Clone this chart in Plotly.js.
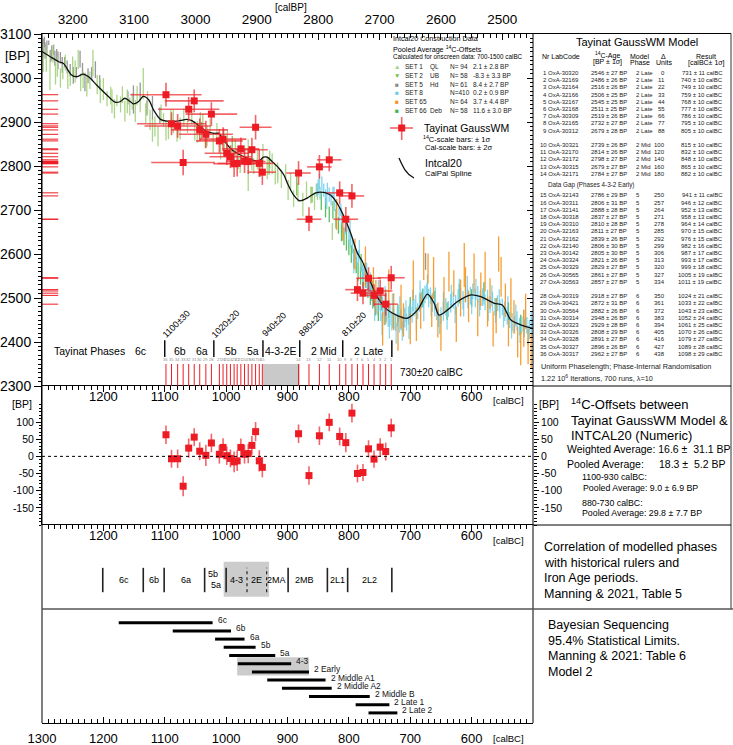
<!DOCTYPE html>
<html><head><meta charset="utf-8">
<script src="https://cdn.plot.ly/plotly-3.0.1.min.js"></script>
<style>html,body{margin:0;padding:0;background:#fff}#chart{width:733px;height:745px}</style>
</head><body><div id="chart"></div>
<script>
// ================= DATA =================
const labCode = ['OxA-30320','OxA-32169','OxA-32164','OxA-32166','OxA-32167','OxA-32168','OxA-30309','OxA-32165','OxA-30312','OxA-30321','OxA-32170','OxA-32172','OxA-30315','OxA-32171','OxA-32143','OxA-30311','OxA-32141','OxA-30318','OxA-30310','OxA-32163','OxA-32162','OxA-32140','OxA-30142','OxA-30324','OxA-30329','OxA-30565','OxA-30563','OxA-30319','OxA-30421','OxA-30564','OxA-30314','OxA-30323','OxA-30326','OxA-30328','OxA-30327','OxA-30317'];
const c14Age = [2546,2486,2516,2506,2545,2511,2519,2732,2679,2739,2814,2798,2679,2784,2786,2806,2888,2837,2810,2811,2839,2806,2805,2821,2829,2861,2857,2918,2872,2882,2948,2929,2808,2891,2896,2962];
const c14Err = [27,26,26,25,25,25,26,27,28,26,26,27,27,27,29,31,28,27,28,27,26,30,30,26,27,27,27,27,31,26,26,28,29,27,26,27];
const modelPhase = ['2 Late','2 Late','2 Late','2 Late','2 Late','2 Late','2 Late','2 Late','2 Late','2 Mid','2 Mid','2 Mid','2 Mid','2 Mid','5','5','5','5','5','5','5','5','5','5','5','5','5','6','6','6','6','6','6','6','6','6'];
const deltaUnits = [0,11,22,33,44,55,66,77,88,100,120,140,160,180,250,257,264,271,278,285,292,299,306,313,320,327,334,350,361,372,383,394,405,416,427,438];
const calBC = [731,740,749,759,768,777,786,795,805,815,832,848,865,882,941,946,952,958,964,970,976,982,987,993,999,1005,1011,1024,1033,1043,1052,1061,1070,1079,1089,1098];
const calErr = [11,10,10,10,10,10,10,10,10,10,10,10,10,10,11,12,13,13,14,15,15,16,17,17,18,19,19,21,22,23,24,25,26,27,28,29];
const offsetBP = [83,14,27,-8,22,-47,-50,126,40,58,99,60,-56,66,-32,-13,72,32,8,6,26,-13,-16,-6,2,26,6,39,3,15,56,24,-87,-7,-7,63];

const curveCalBC = [1300,1287,1273,1265,1252,1243,1233,1224,1211,1194,1181,1173,1165,1156,1151,1143,1135,1126,1118,1107,1096,1080,1064,1056,1042,1031,1020,1012,1004,993,977,960,947,939,933,925,914,906,900,895,890,880,868,854,841,830,819,808,797,786,778,770,754,737,721,705,688,672,661,653,639,623,601,585,563,550,536,520,500];
const curveBP = [3060,3049,3037,3033,3007,3003,3009,3003,2984,2961,2945,2946,2954,2946,2941,2946,2958,2950,2927,2906,2902,2902,2906,2903,2889,2878,2874,2874,2859,2840,2825,2815,2811,2820,2820,2810,2795,2780,2760,2746,2734,2721,2727,2739,2740,2734,2715,2685,2647,2602,2583,2555,2503,2473,2460,2454,2473,2509,2488,2461,2473,2492,2507,2503,2488,2484,2450,2439,2431];

const set5Hd = [[1298,3069,21],[1296,3082,12],[1295,3062,18],[1292,3070,15],[1289,3080,5],[1286,3050,14],[1284,3057,17],[1281,3064,12],[1279,3045,17],[1276,3052,14],[1274,3040,20],[1270,3046,13],[1267,3030,18],[1263,3036,12],[1259,3025,15],[1254,3018,14],[1249,3006,19],[1244,3012,13],[1238,3043,19],[1234,3020,14],[1230,2991,21],[1225,3005,17],[1219,3010,15],[1213,3019,19],[1206,2990,16],[1160,2955,15],[1151,2951,32],[1140,2970,20],[1129,2932,17],[1120,2932,27],[1108,2915,18],[1004,2870,15],[760,2515,15],[675,2583,19]];
const set1QL = [[1298,3046,32],[1293,3040,26],[1287,3018,45],[1282,3055,20],[1278,3010,25],[1275,3026,23],[1270,3000,22],[1266,3012,15],[1262,3035,18],[1258,2995,20],[1254,3001,19],[1250,3025,24],[1246,3015,25],[1241,3042,22],[1237,2990,20],[1233,2996,19],[1227,2981,23],[1222,2995,20],[1217,3034,30],[1210,2985,22],[1205,2970,27],[1200,2975,25],[1194,2953,17],[1188,2960,20],[1186,2947,27],[1182,2930,22],[1178,2949,13],[1172,2940,18],[1169,2962,19],[1165,2925,24],[1161,2947,27],[1157,2935,20],[1153,2947,19],[1148,2925,25],[1145,2960,22],[1140,2940,18],[1135,2987,36],[1131,2920,22],[1128,2945,25],[1124,2905,23],[1120,2880,25],[1116,2890,23],[1111,2868,23],[1106,2920,20],[1102,2905,15],[1098,2880,22],[1094,2882,21],[1090,2910,18],[1086,2901,27],[1080,2875,20],[1075,2885,25],[1069,2910,20],[1063,2890,15],[1056,2915,20],[1051,2880,22],[1047,2877,25],[1042,2905,18],[1038,2896,22],[1034,2860,20],[1031,2868,23],[1026,2890,18],[1021,2853,23],[1015,2880,18],[1009,2834,19],[1003,2850,22],[998,2856,25],[992,2822,23],[985,2840,20],[980,2815,22],[977,2803,19],[970,2825,22],[964,2834,27],[964,2767,24],[958,2810,20],[955,2800,18],[949,2815,23],[944,2795,20],[940,2830,20],[933,2796,26],[929,2815,20],[925,2805,24],[920,2780,22],[916,2789,19],[916,2776,15],[910,2770,20],[903,2787,17],[899,2746,23],[895,2765,20],[890,2726,19],[883,2740,22],[875,2712,27],[869,2745,20],[862,2734,19],[856,2720,20],[851,2742,19],[827,2651,19]];
const set2UB = [[1040,2880,20],[990,2850,18],[930,2800,20],[885,2755,22],[860,2735,18],[780,2580,20],[762,2520,20],[700,2470,18]];
const set66Deb = [[845,2720,20],[838,2705,22],[832,2690,18],[826,2700,20],[821,2680,22],[817,2665,19],[812,2650,21],[808,2640,20],[804,2630,22],[800,2615,18],[796,2600,20],[792,2590,22],[788,2575,19],[785,2560,21],[781,2550,20],[777,2540,18],[773,2545,22],[769,2520,20],[765,2505,21],[761,2495,19],[757,2480,20],[752,2470,22],[747,2490,18],[742,2460,20],[735,2475,21],[728,2450,19],[720,2465,20],[700,2480,22],[680,2500,20],[660,2495,21],[640,2470,20],[620,2510,22],[600,2500,20],[580,2515,21],[560,2480,19],[540,2470,20],[520,2440,22]];
const set8 = [[853,2745,15],[850,2752,18],[847,2738,14],[844,2760,16],[841,2745,15],[838,2730,17],[835,2748,14],[832,2735,16],[829,2725,15],[826,2740,13],[823,2712,15],[820,2705,16],[816,2690,15],[813,2700,14],[810,2672,16],[806,2660,15],[803,2668,17],[800,2640,16],[797,2630,15],[794,2618,17],[790,2605,15],[787,2590,16],[784,2595,14],[781,2575,15],[778,2560,16],[775,2565,15],[772,2540,17],[769,2530,16],[766,2520,18],[763,2510,17],[760,2500,20],[757,2495,22],[754,2485,24],[751,2490,20],[748,2470,23],[745,2478,25],[742,2460,22],[739,2470,24],[736,2455,21],[733,2462,25],[730,2448,22],[727,2455,24],[724,2445,20],[721,2458,23],[718,2442,21],[715,2450,24],[712,2440,20],[709,2455,22],[706,2445,19],[703,2460,21],[700,2470,20],[697,2462,18],[694,2478,20],[691,2485,22],[688,2470,18],[685,2490,21],[682,2495,19],[679,2500,22],[676,2508,20],[673,2515,18],[670,2500,21],[667,2505,19],[664,2490,22],[660,2478,20],[657,2468,18],[654,2455,21],[650,2460,19],[646,2470,22],[642,2480,20],[638,2475,18],[634,2488,21],[630,2495,19],[626,2485,22],[622,2500,20],[618,2505,18],[614,2495,21],[610,2510,19],[606,2498,22],[602,2505,20],[598,2515,18],[594,2500,21],[590,2508,19],[586,2495,22],[582,2502,20],[578,2490,18],[574,2498,21],[570,2485,19],[566,2492,22],[562,2480,20],[558,2488,18],[554,2475,21],[550,2480,19],[546,2470,22],[542,2460,20],[538,2450,18],[534,2445,21],[530,2440,19],[526,2448,22],[522,2435,20],[518,2440,18],[514,2432,21],[510,2438,19],[506,2428,22],[502,2435,20]];
const set8b = [[848,2765,18],[836,2722,20],[824,2735,18],[812,2685,20],[798,2655,22],[792,2580,24],[783,2610,22],[776,2545,24],[771,2555,25],[765,2530,28],[758,2470,22],[752,2515,26],[746,2440,24],[741,2500,27],[734,2430,22],[729,2485,25],[723,2420,24],[717,2478,26],[713,2425,22],[707,2470,25],[702,2430,23],[696,2495,24],[690,2450,22],[684,2515,25],[678,2470,23],[672,2530,24],[666,2480,22],[659,2500,24],[652,2440,22],[646,2490,24],[640,2450,22],[633,2505,25],[627,2465,22],[620,2520,24],[613,2480,22],[607,2525,25],[600,2485,22],[593,2520,24],[587,2480,22],[580,2510,25],[573,2470,22],[567,2505,24],[561,2465,22],[555,2495,25],[548,2455,22],[541,2480,24],[535,2430,22],[528,2460,25],[521,2420,22],[515,2450,24],[508,2415,22],[503,2445,24]];
const set65 = [[820,2690,35],[810,2660,30],[790,2600,35],[773,2572,45],[760,2530,40],[756,2503,38],[745,2430,38],[740,2480,40],[735,2520,45],[727,2469,42],[720,2420,40],[715,2480,50],[711,2450,38],[700,2430,35],[695,2540,45],[690,2440,38],[683,2470,40],[678,2590,49],[671,2567,34],[665,2470,36],[662,2545,48],[655,2450,40],[650,2420,40],[645,2506,42],[637,2560,45],[629,2533,30],[625,2440,40],[618,2500,42],[612,2575,50],[610,2530,40],[605,2480,35],[596,2556,45],[590,2455,42],[585,2520,38],[578,2560,45],[574,2469,34],[570,2510,35],[565,2430,40],[560,2460,40],[556,2600,40],[552,2548,45],[545,2495,38],[540,2420,30],[536,2500,45],[531,2457,38],[525,2400,35],[520,2385,38],[515,2431,42],[512,2470,40],[508,2390,40],[503,2380,40]];

const setNames = ['SET 1','SET 2','SET 5','SET 8','SET 65','SET 66'];
const setCodes = ['QL','UB','Hd','','','Deb'];
const setN = [94,58,61,410,64,58];
const setOffsets = ['2.1 ± 2.8 BP','-8.3 ± 3.3 BP','8.4 ± 2.7 BP','0.2 ± 0.9 BP','3.7 ± 4.4 BP','11.6 ± 3.0 BP'];
const setSymbols = ['▲','▼','■','■','■','■'];
const setColors = ['#a3d27c','#72bf44','#8c8c8c','#6dcde9','#f7941d','#3bb54a'];

const phaseNames = ['6c','6b','6a','5b','5a','4-3-2E','2 Mid','2 Late'];
const phaseNameX = [1139,1075,1040,992,957,910,841,768];
const phaseBounds = [1100,1020,940,880,810,730];
const phaseBoundLabels = ['1100±30','1020±20','940±20','880±20','810±20','730±20 calBC'];

const corrBounds = [1201,1135,1101,1035,1000,966,934,899,835,802,730];
const corrDotted = [false,false,false,false,false,true,true,false,false,false,false];
const corrNames = ['6c','6b','6a','5b','5a','4-3','2E','2MA','2MB','2L1','2L2'];
const corrNameX = [1166,1118,1066,1022,1017,983,951,918,872,819,767];
const corrShade = [1004,930];

const bayesNames = ['6c','6b','6a','5b','5a','4-3','2 Early','2 Middle A1','2 Middle A2','2 Middle B','2 Late 1','2 Late 2'];
const bayesStart = [1175,1087,1018,1004,995,981,958,933,909,865,789,768];
const bayesEnd = [1022,992,970,952,920,894,865,838,828,766,734,721];
const bayesShade = [982,865];

const calTicks = [1300,1200,1100,1000,900,800,700,600];
const calBPTicks = [3200,3100,3000,2900,2800,2700,2600,2500];
const bpTicks = [2300,2400,2500,2600,2700,2800,2900,3000,3100];
const offTicks = [-150,-100,-50,0,50,100];

// ================= LAYOUT HELPERS =================
const FONT = 'Arial, Liberation Sans, sans-serif';
const W = 733, H = 745;
const PX = x => x / W, PY = y => 1 - y / H;
const XD = [PX(42), PX(533)];
const YM = [PY(386), PY(34)];
const YO = [PY(525), PY(386)];
const YC = [PY(609), PY(525)];
const YB = [PY(723), PY(609)];
const RED = '#ed1c24', REDBAR = 'rgba(237,40,45,0.72)';

function T(text, x, y, size, anchor, color, extra) {
  return Object.assign({text, x: PX(x), y: PY(y), xref: 'paper', yref: 'paper', showarrow: false,
    xanchor: anchor || 'left', yanchor: 'middle', font: {family: FONT, size, color: color || '#000'}}, extra || {});
}
function lineP(x0, y0, x1, y1, color, width) {
  return {type: 'line', xref: 'paper', yref: 'paper', x0: PX(x0), y0: PY(y0), x1: PX(x1), y1: PY(y1),
    line: {color: color || '#000', width: width || 1}};
}
function minorT(dir, len) { return {tickmode: 'linear', tick0: 0, dtick: 10, ticks: dir, ticklen: len, tickcolor: '#000', tickwidth: 1, showgrid: false}; }
const tf = s => ({family: FONT, size: s, color: '#000'});

// ================= TRACES =================
const traces = [];
function setTrace(arr, color, op) {
  return {type: 'scatter', mode: 'markers', x: arr.map(d => d[0]), y: arr.map(d => d[1]), xaxis: 'x', yaxis: 'y',
    marker: {size: 2, color: color, opacity: 0}, opacity: op,
    error_y: {type: 'data', array: arr.map(d => d[2]), visible: true, color: color, thickness: 1.3, width: 0},
    hoverinfo: 'skip', showlegend: false};
}
traces.push(setTrace(set5Hd, setColors[2], 0.9));
traces.push(setTrace(set1QL, setColors[0], 0.9));
traces.push(setTrace(set2UB, setColors[1], 0.9));
traces.push(setTrace(set66Deb, setColors[5], 0.85));
traces.push(setTrace(set8, setColors[3], 0.85));
traces.push(setTrace(set8b, setColors[3], 0.8));
traces.push(setTrace(set65, setColors[4], 0.9));

traces.push({type: 'scatter', mode: 'lines', x: curveCalBC, y: curveBP, xaxis: 'x', yaxis: 'y',
  line: {color: '#111', width: 1.3, shape: 'spline', smoothing: 0.8}, hoverinfo: 'skip', showlegend: false});

traces.push({type: 'scatter', mode: 'markers', x: calBC, y: c14Age, xaxis: 'x', yaxis: 'y',
  marker: {symbol: 'square', size: 7, color: RED},
  error_x: {type: 'data', array: calErr.map(e => 2 * e), color: REDBAR, thickness: 1.6, width: 0},
  error_y: {type: 'data', array: c14Err, color: REDBAR, thickness: 1.6, width: 0},
  hoverinfo: 'skip', showlegend: false});

traces.push({type: 'scatter', mode: 'markers', x: calBC, y: offsetBP, xaxis: 'x2', yaxis: 'y2',
  marker: {symbol: 'square', size: 7, color: RED},
  error_y: {type: 'data', array: c14Err, color: REDBAR, thickness: 1.6, width: 0},
  hoverinfo: 'skip', showlegend: false});

const bx = [], by = [];
bayesNames.forEach((n, i) => { bx.push(bayesStart[i], bayesEnd[i], null); by.push(i, i, null); });
traces.push({type: 'scatter', mode: 'lines', x: bx, y: by, xaxis: 'x4', yaxis: 'y4',
  line: {color: '#000', width: 3}, hoverinfo: 'skip', showlegend: false});

traces.push({type: 'scatter', mode: 'markers', x: [2800], y: [2700], xaxis: 'x5', yaxis: 'y', marker: {opacity: 0}, hoverinfo: 'skip', showlegend: false});
traces.push({type: 'scatter', mode: 'markers', x: [900], y: [2700], xaxis: 'x', yaxis: 'y5', marker: {opacity: 0}, hoverinfo: 'skip', showlegend: false});
traces.push({type: 'scatter', mode: 'markers', x: [900], y: [0], xaxis: 'x2', yaxis: 'y6', marker: {opacity: 0}, hoverinfo: 'skip', showlegend: false});
traces.push({type: 'scatter', mode: 'markers', x: [900], y: [0.5], xaxis: 'x3', yaxis: 'y3', marker: {opacity: 0}, hoverinfo: 'skip', showlegend: false});

// ================= SHAPES =================
const shapes = [];
shapes.push({type: 'rect', xref: 'x', yref: 'y', x0: phaseBounds[2], x1: phaseBounds[3], y0: 2300, y1: 2350, fillcolor: '#c9c9c9', line: {width: 0}, layer: 'below'});
shapes.push({type: 'rect', xref: 'x3', yref: 'y3', x0: corrShade[0], x1: corrShade[1], y0: 0.146, y1: 0.563, fillcolor: '#cccccc', line: {width: 0}, layer: 'below'});
shapes.push({type: 'rect', xref: 'x4', yref: 'y4', x0: bayesShade[0], x1: bayesShade[1], y0: 4.2, y1: 6.45, fillcolor: '#cccccc', line: {width: 0}, layer: 'below'});
c14Age.forEach(a => shapes.push({type: 'line', xref: 'x domain', yref: 'y', x0: 0, x1: 0.033, y0: a, y1: a, line: {color: RED, width: 1}}));
calBC.forEach(c => shapes.push({type: 'line', xref: 'x', yref: 'y', x0: c, x1: c, y0: 2300, y1: 2350, line: {color: RED, width: 1}}));
phaseBounds.forEach(b => shapes.push({type: 'line', xref: 'x', yref: 'y', x0: b, x1: b, y0: 2366, y1: 2404, line: {color: '#000', width: 1.4}}));
corrBounds.forEach((b, i) => shapes.push({type: 'line', xref: 'x3', yref: 'y3', x0: b, x1: b, y0: 0.2, y1: 0.49,
  line: {color: '#222', width: corrDotted[i] ? 1.2 : 1.6, dash: corrDotted[i] ? 'dot' : 'solid'}}));
shapes.push(lineP(42, 34, 42, 723));
shapes.push(lineP(533, 33.5, 533, 723));
shapes.push(lineP(533, 33.5, 731, 33.5));
shapes.push(lineP(731, 33.5, 731, 609, '#333', 1));
shapes.push(lineP(533, 386, 731, 386));
shapes.push(lineP(533, 525, 731, 525));
shapes.push(lineP(42, 609, 733, 609, '#555', 1.4));
shapes.push(lineP(390, 128, 413, 128, REDBAR, 1.6));
shapes.push(lineP(401.7, 117, 401.7, 140, REDBAR, 1.6));
shapes.push({type: 'rect', xref: 'paper', yref: 'paper', x0: PX(398.2), x1: PX(405.2), y0: PY(124.5), y1: PY(131.5), fillcolor: RED, line: {width: 0}});
shapes.push({type: 'path', xref: 'paper', yref: 'paper',
  path: `M ${PX(399)},${PY(158)} C ${PX(403)},${PY(167)} ${PX(406)},${PY(174)} ${PX(414)},${PY(178)}`,
  line: {color: '#111', width: 1.3}});
shapes.push({type: 'line', xref: 'x2', yref: 'y2', x0: 1300, x1: 500, y0: 0, y1: 0, line: {color: '#000', width: 1, dash: 'dot'}});

// ================= ANNOTATIONS =================
const ann = [];
ann.push(T('[calBP]', 291, 7, 10, 'center'));
ann.push(T('[BP]', 17, 56, 13, 'center'));
ann.push(T('[BP]', 22, 404, 10.5, 'center'));
ann.push(T('[calBC]', 508, 400, 9.5, 'center'));
ann.push(T('[calBC]', 508, 540, 9.5, 'center'));
ann.push(T('[calBC]', 508, 738, 9.5, 'center'));

ann.push(T('Intcal20 Construction Data', 391, 39, 7.2));
ann.push(T('Pooled Average <sup>14</sup>C-Offsets', 391, 48.5, 7.2));
ann.push(T('Calculated for onscreen data: 700-1500 calBC', 391, 56.5, 6.3));
setNames.forEach((n, k) => {
  const y = 66.7 + k * 8.75;
  ann.push(T(setSymbols[k], 397, y, 6.5, 'center', setColors[k]));
  ann.push(T(n, 403, y, 6.5, 'left', '#222'));
  if (setCodes[k]) ann.push(T(setCodes[k], 428, y, 6.5, 'left', '#222'));
  ann.push(T('N=' + (setN[k] < 100 ? '\u00a0' : '') + setN[k], 448, y, 6.5, 'left', '#222'));
  ann.push(T(setOffsets[k], 471, y, 6.5, 'left', '#222'));
});
ann.push(T('Tayinat GaussWM', 421.5, 127.5, 10.5));
ann.push(T('<sup>14</sup>C-scale bars: ± 1σ', 421, 138.5, 7.5));
ann.push(T('Cal-scale bars: ± 2σ', 423, 147.5, 7.5));
ann.push(T('Intcal20', 423, 163, 10.5));
ann.push(T('CalPal Spline', 423, 173.5, 7.8));

const yPhase = 2380;
ann.push({text: 'Tayinat Phases', x: 1222, y: yPhase, xref: 'x', yref: 'y', showarrow: false, xanchor: 'center', yanchor: 'middle', font: tf(10.5)});
phaseNames.forEach((n, i) => ann.push({text: n, x: phaseNameX[i], y: yPhase, xref: 'x', yref: 'y', showarrow: false, xanchor: 'center', yanchor: 'middle', font: tf(10.5)}));
phaseBoundLabels.forEach((t, i) => {
  if (i < phaseBoundLabels.length - 1) {
    ann.push({text: t, x: phaseBounds[i], y: 2441, xref: 'x', yref: 'y', showarrow: false, xanchor: 'center', yanchor: 'middle', xshift: 11.5, textangle: -45, font: tf(9)});
  } else {
    ann.push({text: t, x: phaseBounds[i], y: 2330, xref: 'x', yref: 'y', showarrow: false, xanchor: 'left', yanchor: 'middle', xshift: 6, font: tf(10)});
  }
});
calBC.forEach((c, i) => ann.push({text: String(i + 1), x: c, y: 2351, xref: 'x', yref: 'y', showarrow: false, xanchor: 'center', yanchor: 'bottom', font: {family: FONT, size: 4, color: '#888'}}));

corrNames.forEach((n, i) => {
  let y = 0.34;
  if (n === '5b') y = 0.42; if (n === '5a') y = 0.29;
  ann.push({text: n, x: corrNameX[i], y: y, xref: 'x3', yref: 'y3', showarrow: false, xanchor: 'center', yanchor: 'middle', font: tf(9)});
});
bayesNames.forEach((n, i) => ann.push({text: n, x: bayesEnd[i], y: i, xref: 'x4', yref: 'y4', showarrow: false, xanchor: 'left', yanchor: 'middle', xshift: 3, yshift: 2.5, font: {family: FONT, size: 8.4, color: '#111'}}));

ann.push(T('Tayinat GaussWM Model', 637, 42, 11, 'center'));
ann.push(T('Nr LabCode', 540, 57, 7));
ann.push(T('<sup>14</sup>C-Age', 607, 55.5, 7, 'center'));
ann.push(T('[BP ± 1σ]', 607, 62, 7, 'center'));
ann.push(T('Model', 640, 56.5, 7, 'center'));
ann.push(T('Phase', 640, 62.5, 7, 'center'));
ann.push(T('Δ', 663.5, 56.5, 7, 'center'));
ann.push(T('Units', 663.5, 62.5, 7, 'center'));
ann.push(T('Result', 706, 56.5, 7, 'center'));
ann.push(T('[calBC± 1σ]', 706, 62.5, 7, 'center'));
labCode.forEach((code, i) => {
  const g = (i >= 9 ? 1 : 0) + (i >= 14 ? 2 : 0) + (i >= 27 ? 1 : 0);
  const y = 73 + (i + g) * 7.2;
  const col = '#222';
  ann.push(T((i + 1) + ' ' + code, 581, y, 6, 'right', col));
  ann.push(T(c14Age[i] + ' ± ' + c14Err[i] + ' BP', 589, y, 6, 'left', col));
  ann.push(T(modelPhase[i], 634, y, 6, 'left', col));
  ann.push(T(String(deltaUnits[i]), 667, y, 6, 'right', col));
  ann.push(T(calBC[i] + ' ± ' + calErr[i] + ' calBC', 725, y, 6, 'right', col));
});
ann.push(T('Data Gap (Phases 4-3-2 Early)', 546, 185, 6.3, 'left', '#222'));
ann.push(T('Uniform Phaselength; Phase-Internal Randomisation', 539, 366, 7.3, 'left', '#222'));
ann.push(T('1.22 10<sup>6</sup> Iterations, 700 runs, λ=10', 539, 378, 7.3, 'left', '#222'));

ann.push(T('[BP]', 549, 404, 10.5, 'center'));
ann.push(T('<sup>14</sup>C-Offsets between', 569, 404, 13));
ann.push(T('Tayinat GaussWM Model &', 569, 420, 13));
ann.push(T('INTCAL20 (Numeric)', 569, 435.5, 13));
ann.push(T('Weighted Average: 16.6 ±\u00a0\u00a031.1 BP', 565, 449, 10.5));
ann.push(T('Pooled Average:', 565, 463.5, 10.5));
ann.push(T('18.3 ±\u00a0\u00a05.2 BP', 657, 463.5, 10.5));
ann.push(T('1100-930 calBC:', 580, 477, 8.8));
ann.push(T('Pooled Average: 9.0 ± 6.9 BP', 581, 488, 8.8));
ann.push(T('880-730 calBC:', 580, 502.5, 8.8));
ann.push(T('Pooled Average: 29.8 ± 7.7 BP', 580, 512.5, 8.8));

['Correlation of modelled phases', 'with historical rulers and', 'Iron Age periods.', 'Manning & 2021, Table 5']
  .forEach((t, i) => ann.push(T(t, 542, 547 + i * 15.5, 12.5)));
['Bayesian Sequencing', '95.4% Statistical Limits.', 'Manning & 2021: Table 6', 'Model 2']
  .forEach((t, i) => ann.push(T(t, 546, 625 + i * 15.5, 12.5)));

// ================= LAYOUT =================
const calAxisCommon = {range: [1300, 500], tickmode: 'array', showgrid: false, zeroline: false,
  showline: true, linecolor: '#000', linewidth: 1, tickcolor: '#000', tickwidth: 1, fixedrange: true};
const layout = {
  width: W, height: H, margin: {l: 0, r: 0, t: 0, b: 0}, paper_bgcolor: '#fff', plot_bgcolor: 'rgba(0,0,0,0)',
  showlegend: false, font: {family: FONT},
  xaxis: {domain: XD, range: [1300, 500], anchor: 'y', visible: false, fixedrange: true},
  xaxis5: {overlaying: 'x', side: 'top', anchor: 'y', range: [3250, 2450], tickmode: 'array', tickvals: calBPTicks, ticktext: calBPTicks.map(String),
    ticks: 'inside', ticklen: 6, tickcolor: '#000', showline: true, linecolor: '#000', linewidth: 1, showgrid: false, zeroline: false,
    tickfont: tf(13.5), ticklabelstandoff: 4, minor: minorT('inside', 4)},
  yaxis: {domain: YM, range: [2300, 3100], anchor: 'x', side: 'left', tickmode: 'array', tickvals: bpTicks, ticktext: bpTicks.map(String),
    ticks: 'outside', ticklen: 7, tickcolor: '#000', showline: true, linecolor: '#000', showgrid: false, zeroline: false,
    tickfont: tf(14), minor: minorT('outside', 3)},
  yaxis5: {overlaying: 'y', side: 'right', anchor: 'x', range: [2300, 3100], tickmode: 'array', tickvals: bpTicks,
    ticks: 'inside', ticklen: 6, tickcolor: '#000', showticklabels: false, showline: false, showgrid: false, zeroline: false, minor: minorT('inside', 3)},
  xaxis2: Object.assign({}, calAxisCommon, {domain: XD, anchor: 'y2', side: 'top', tickvals: calTicks.slice(1), ticktext: calTicks.slice(1).map(String),
    ticks: 'inside', ticklen: 6, ticklabelposition: 'inside', tickfont: tf(13), minor: minorT('inside', 4)}),
  yaxis2: {domain: YO, range: [-200, 205], anchor: 'x2', tickmode: 'array', tickvals: offTicks, ticktext: offTicks.map(String),
    ticks: 'outside', ticklen: 5, tickcolor: '#000', showline: true, linecolor: '#000', showgrid: false, zeroline: false,
    tickfont: tf(10.5), minor: minorT('outside', 2.5)},
  yaxis6: {overlaying: 'y2', side: 'right', anchor: 'x2', range: [-200, 205], tickmode: 'array', tickvals: offTicks, ticktext: offTicks.map(String),
    ticks: 'outside', ticklen: 5, tickcolor: '#000', showline: false, showgrid: false, zeroline: false, tickfont: tf(10.5), minor: minorT('outside', 2.5)},
  xaxis3: Object.assign({}, calAxisCommon, {domain: XD, anchor: 'y3', side: 'top', tickvals: calTicks.slice(1), ticktext: calTicks.slice(1).map(String),
    ticks: 'inside', ticklen: 6, ticklabelposition: 'inside', tickfont: tf(13), minor: minorT('inside', 4)}),
  yaxis3: {domain: YC, range: [0, 1], anchor: 'x3', visible: false, fixedrange: true},
  xaxis4: Object.assign({}, calAxisCommon, {domain: XD, anchor: 'y4', side: 'bottom', tickvals: calTicks, ticktext: calTicks.map(String),
    ticks: 'inside', ticklen: 6, tickfont: tf(13), ticklabelstandoff: 3, minor: minorT('inside', 4)}),
  yaxis4: {domain: YB, range: [12.23, -1.67], anchor: 'x4', visible: false, fixedrange: true},
  shapes: shapes,
  annotations: ann
};

Plotly.newPlot('chart', traces, layout, {staticPlot: true, displayModeBar: false});
</script>
</body></html>
